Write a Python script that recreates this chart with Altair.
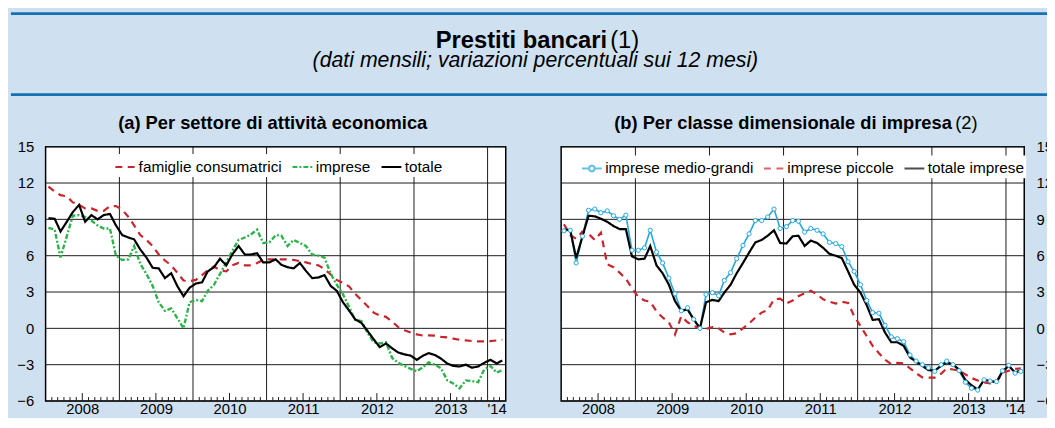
import altair as alt
import pandas as pd

FONT = "Liberation Sans, Arial, sans-serif"
BG = "#cfe0f1"
DARK_BLUE = "#1670b4"
RED = "#c8252d"
GREEN = "#2eb34b"
SKY = "#27a6de"
BLACK = "#000000"
GRID = "#1a1a1a"

# ---------------- data (monthly, Jan 2008 - Mar 2014) ----------------
left_series = ["famiglie consumatrici", "imprese", "totale"]
famiglie = [11.7, 11.3, 11.0, 10.9, 10.4, 10.2, 9.9, 9.9, 9.7, 9.7, 10.1, 10.1,
            9.8, 9.2, 8.5, 7.7, 7.3, 6.8, 6.1, 5.6, 5.2, 4.6, 3.95, 3.9,
            4.0, 4.4, 4.8, 5.1, 4.8, 4.7, 5.2, 5.4, 5.2, 5.2, 5.4, 5.65,
            5.7, 5.7, 5.7, 5.7, 5.65, 5.55, 5.45, 5.3, 5.2, 4.9, 4.45, 4.0,
            3.75, 3.45, 2.85, 2.35, 1.85, 1.3, 1.05, 0.95, 0.55, 0.1, -0.15, -0.35,
            -0.5, -0.6, -0.58, -0.6, -0.7, -0.75, -0.85, -0.95, -1.0, -1.05, -1.08, -1.08,
            -1.05, -1.0, -0.95]
imprese = [8.3, 8.15, 5.85, 7.6, 9.3, 9.35, 9.2, 8.9, 8.5, 8.25, 8.25, 6.0,
           5.65, 5.7, 6.8, 5.3, 4.5, 3.5, 2.15, 1.45, 1.65, 0.85, 0.0, 2.15,
           2.35, 2.25, 3.1, 3.6, 4.5, 5.45, 6.4, 7.3, 7.5, 7.75, 8.15, 7.05,
           7.1, 7.7, 7.65, 6.8, 7.3, 7.05, 6.8, 6.1, 6.0, 5.85, 4.5, 3.6,
           2.8, 1.75, 0.7, 0.6, -0.35, -1.15, -1.25, -1.15, -2.45, -2.85, -3.1, -3.35,
           -3.55, -3.2, -2.8, -3.0, -3.3, -4.3, -4.55, -4.95, -4.3, -4.35, -4.45, -3.4,
           -3.1, -3.65, -3.45]
totale = [9.1, 9.05, 8.0, 8.8, 9.6, 10.2, 8.8, 9.35, 9.0, 9.35, 9.45, 8.5,
          7.7, 7.5, 7.35, 6.5, 5.85, 5.0, 4.95, 4.15, 4.55, 3.5, 2.65, 3.35,
          3.7, 3.8, 4.7, 5.05, 5.75, 5.2, 6.1, 6.8, 6.1, 6.1, 6.2, 5.45,
          5.45, 5.7, 5.25, 5.05, 4.95, 5.4, 4.75, 4.15, 4.2, 4.4, 3.5, 3.1,
          2.15, 1.45, 0.75, 0.45, -0.2, -0.9, -1.55, -1.25, -1.65, -2.0, -2.15, -2.25,
          -2.6, -2.25, -2.05, -2.2, -2.5, -2.9, -3.1, -3.15, -3.0, -3.25, -3.15, -2.85,
          -2.6, -2.9, -2.65]

right_series = ["imprese medio-grandi", "imprese piccole", "totale imprese"]
medio_grandi = [8.05, 8.1, 5.4, 7.6, 9.75, 9.85, 9.55, 9.7, 9.3, 9.0, 9.35, 6.45,
                6.45, 6.65, 8.1, 6.3, 5.4, 4.15, 2.85, 1.45, 1.7, 0.75, 0.0, 2.8,
                2.95, 2.7, 3.95, 4.6, 5.75, 6.85, 7.8, 8.9, 8.9, 9.2, 9.85, 8.25,
                8.4, 8.9, 8.85, 7.95, 8.25, 8.1, 7.8, 7.1, 7.0, 6.75, 5.5, 4.7,
                3.6, 2.3, 1.3, 1.25, 0.25, -0.7, -0.85, -1.1, -2.2, -2.7, -3.0, -3.25,
                -3.55, -3.0, -2.7, -3.0, -3.5, -4.45, -4.95, -5.1, -4.25, -4.35, -4.4, -3.5,
                -3.05, -3.7, -3.55]
piccole = [8.6, 7.7, 7.4, 8.0, 7.8, 7.3, 7.9, 5.3, 5.05, 4.6, 4.1, 3.3,
           2.6, 2.3, 2.2, 1.4, 0.9, 0.5, -0.5, 1.0, 0.5, 0.2, 0.0, -0.05,
           0.1, 0.0, -0.35, -0.5, -0.4, 0.0, 0.4, 0.9, 1.3, 1.5, 2.4, 2.45,
           2.05, 2.3, 2.65, 2.9, 3.1, 2.8, 2.4, 2.2, 2.05, 2.2, 2.1, 1.0,
           0.2, -0.65, -1.45, -2.05, -2.6, -2.95, -2.85, -2.9, -3.3, -3.7, -4.05, -4.07,
           -4.07, -3.75, -3.3, -3.4, -3.47, -3.8, -4.1, -4.3, -4.47, -4.55, -4.45, -3.65,
           -3.5, -3.35, -3.3]
totale_imprese = [8.15, 8.1, 5.8, 7.6, 9.3, 9.25, 9.05, 8.8, 8.45, 8.2, 8.2, 5.95,
                  5.7, 5.75, 6.8, 5.2, 4.55, 3.6, 2.25, 1.45, 1.55, 0.75, 0.0, 2.15,
                  2.35, 2.25, 2.95, 3.6, 4.55, 5.4, 6.25, 7.1, 7.3, 7.65, 8.1, 7.05,
                  7.0, 7.6, 7.65, 6.8, 7.25, 7.05, 6.65, 6.15, 6.0, 5.8, 4.7, 3.6,
                  2.95, 1.9, 0.7, 0.75, -0.35, -1.15, -1.15, -1.45, -2.4, -2.75, -3.1, -3.45,
                  -3.5, -3.1, -2.8, -3.0, -3.4, -4.25, -4.7, -5.05, -4.25, -4.35, -4.45, -3.55,
                  -3.1, -3.65, -3.45]

y_ticks = [-6, -3, 0, 3, 6, 9, 12, 15]
label_years = [2008, 2009, 2010, 2011, 2012, 2013, 2014]

# ---------------- tables ----------------
dates = [f"{2008 + i // 12}-{i % 12 + 1:02d}-15" for i in range(75)]


def long_table(names, series_lists):
    rows = []
    for name, vals in zip(names, series_lists):
        for d, v in zip(dates, vals):
            rows.append({"date": d, "series": name, "value": v})
    return pd.DataFrame(rows)


left_df = long_table(left_series, [famiglie, imprese, totale])
right_df = long_table(right_series, [medio_grandi, piccole, totale_imprese])

year_lines = pd.DataFrame({"date": [f"{y}-01-01" for y in range(2009, 2015)]})
month_ticks = pd.DataFrame({"date": [f"{2008 + i // 12}-{i % 12 + 1:02d}-01"
                                     for i in range(1, 75) if i % 12 not in (0, 6)]})
july_ticks = pd.DataFrame({"date": [f"{y}-07-01" for y in range(2008, 2014)]})
grid_df = pd.DataFrame({"value": y_ticks})
one = pd.DataFrame({"k": [0]})

W_L, W_R, H = 465, 468, 257

x_scale = alt.Scale(type="utc", domain=[alt.DateTime(year=2008, month=1, date=1, utc=True),
                                        alt.DateTime(year=2014, month=4, date=1, utc=True)])
y_scale = alt.Scale(domain=[-6, 15], nice=False, zero=False)

label_vals = [alt.DateTime(year=y, month=7, date=1, utc=True) for y in label_years[:-1]] + \
             [alt.DateTime(year=2014, month=2, date=15, utc=True)]

X_AXIS = alt.Axis(values=label_vals,
                  labelExpr="utcyear(datum.value) == 2014 ? \"'14\" : '' + utcyear(datum.value)",
                  grid=False, ticks=False, domain=False, labelFontSize=15, labelFont=FONT,
                  labelColor="black", labelPadding=1, title=None, labelOverlap=False,
                  labelFlush=False)


def y_axis(orient):
    return alt.Axis(values=y_ticks, orient=orient, grid=False,
                    ticks=False, domain=False, labelFontSize=15, labelFont=FONT,
                    labelColor="black", labelPadding=12, title=None)


def legend(lx, ly):
    return alt.Legend(orient="none", legendX=lx, legendY=ly, direction="horizontal", title=None,
                      fillColor="white", padding=1.5, symbolType="stroke", symbolSize=400,
                      symbolStrokeWidth=2.2, labelFontSize=15.5, labelFont=FONT,
                      labelColor="black", columnPadding=6, labelOffset=2, labelLimit=400)


def text_layer(txt, x, y, size, weight="normal", style="normal", align="center"):
    return alt.Chart(one).mark_text(font=FONT, fontSize=size, fontWeight=weight, fontStyle=style,
                                    align=align, baseline="alphabetic", color="black").encode(
        x=alt.value(x), y=alt.value(y), text=alt.value(txt))


def xy(orient):
    return dict(x=alt.X("date:T", scale=x_scale, axis=X_AXIS),
                y=alt.Y("value:Q", scale=y_scale, axis=y_axis(orient)))


def frame_layers(width, orient):
    ex = alt.X("date:T", scale=x_scale, axis=X_AXIS)
    return [
        alt.Chart(grid_df).mark_rule(color=GRID, strokeWidth=1).encode(
            y=alt.Y("value:Q", scale=y_scale, axis=y_axis(orient)),
            x=alt.value(0), x2=alt.value(width)),
        alt.Chart(year_lines).mark_rule(color=GRID, strokeWidth=1).encode(
            x=ex, y=alt.value(0), y2=alt.value(H)),
        alt.Chart(month_ticks).mark_rule(color=GRID, strokeWidth=1).encode(
            x=ex, y=alt.value(H), y2=alt.value(H - 4)),
        alt.Chart(july_ticks).mark_rule(color=GRID, strokeWidth=1).encode(
            x=ex, y=alt.value(H), y2=alt.value(H - 8)),
    ]


def line_layer(df, name, width, cscale, dscale, leg, orient):
    return alt.Chart(df).transform_filter(alt.datum.series == name).mark_line(
        strokeWidth=width, strokeCap="butt").encode(
        **xy(orient),
        color=alt.Color("series:N", scale=cscale, legend=leg),
        strokeDash=alt.StrokeDash("series:N", scale=dscale, legend=leg),
    )


# ---------------- left panel ----------------
c_left = alt.Scale(domain=left_series, range=[RED, GREEN, BLACK])
d_left = alt.Scale(domain=left_series, range=[[7, 5.5], [5, 2, 2, 2], [1, 0]])
leg_l = legend(67.5, 7.5)

deco = [
    alt.Chart(one).mark_rect(color=BG).encode(
        x=alt.value(-35), x2=alt.value(-34), y=alt.value(-137), y2=alt.value(-136)),
    alt.Chart(one).mark_rule(color=DARK_BLUE, strokeWidth=2.8).encode(
        x=alt.value(-35), x2=alt.value(1012), y=alt.value(-134.4)),
    alt.Chart(one).mark_rule(color=DARK_BLUE, strokeWidth=2.8).encode(
        x=alt.value(-35), x2=alt.value(1012), y=alt.value(-52.7)),
    text_layer("Prestiti bancari", 567.5, -99.3, 24, weight="bold", align="right"),
    text_layer("(1)", 570.5, -99.3, 24, align="left"),
    text_layer("(dati mensili; variazioni percentuali sui 12 mesi)", 495, -80.5, 21.5,
               style="italic"),
    text_layer("(a) Per settore di attività economica", 229.5, -18, 18.5, weight="bold"),
]

left = alt.layer(
    *deco,
    *frame_layers(W_L, "left"),
    line_layer(left_df, "famiglie consumatrici", 2.2, c_left, d_left, leg_l, "left"),
    line_layer(left_df, "imprese", 2.4, c_left, d_left, leg_l, "left"),
    line_layer(left_df, "totale", 2.2, c_left, d_left, leg_l, "left"),
).properties(width=W_L, height=H)

# ---------------- right panel ----------------
c_right = alt.Scale(domain=right_series, range=[SKY, RED, BLACK])
d_right = alt.Scale(domain=right_series, range=[[1, 0], [7, 5.5], [1, 0]])
MG_PATH = "M-1,0H-0.28M0.28,0H1M-0.28,0A0.28,0.28,0,1,1,0.28,0A0.28,0.28,0,1,1,-0.28,0Z"
s_right = alt.Scale(domain=right_series, range=[MG_PATH, "stroke", "stroke"])
leg_r = legend(18, 9)

mg_points = alt.Chart(right_df).transform_filter(
    alt.datum.series == "imprese medio-grandi").mark_point(
    filled=True, fill="white", stroke=SKY, strokeWidth=1, size=18, opacity=1).encode(
    **xy("right"))

legend_shape = alt.Chart(right_df).transform_filter("false").mark_point().encode(
    **xy("right"),
    color=alt.Color("series:N", scale=c_right, legend=leg_r),
    strokeDash=alt.StrokeDash("series:N", scale=d_right, legend=leg_r),
    shape=alt.Shape("series:N", scale=s_right, legend=leg_r),
)

right = alt.layer(
    text_layer("(b) Per classe dimensionale di impresa", 394.8, -18.3, 18.5, weight="bold",
               align="right"),
    text_layer("(2)", 398.3, -18.3, 18.5, align="left"),
    *frame_layers(W_R, "right"),
    line_layer(right_df, "imprese piccole", 2.2, c_right, d_right, leg_r, "right"),
    line_layer(right_df, "imprese medio-grandi", 1.6, c_right, d_right, leg_r, "right"),
    line_layer(right_df, "totale imprese", 2.2, c_right, d_right, leg_r, "right"),
    mg_points,
    legend_shape,
).properties(width=W_R, height=H)

chart = alt.hconcat(left, right, spacing=56, bounds="flush").resolve_scale(
    color="independent", strokeDash="independent", shape="independent"
).resolve_legend(
    color="independent", strokeDash="independent", shape="independent"
).properties(padding={"left": 0, "top": 0, "right": -7, "bottom": -2.5}).configure(
    background=BG).configure_view(stroke="black", strokeWidth=1.5, fill="white")

chart.save("out.html", embed_options={"renderer": "svg", "actions": False})
